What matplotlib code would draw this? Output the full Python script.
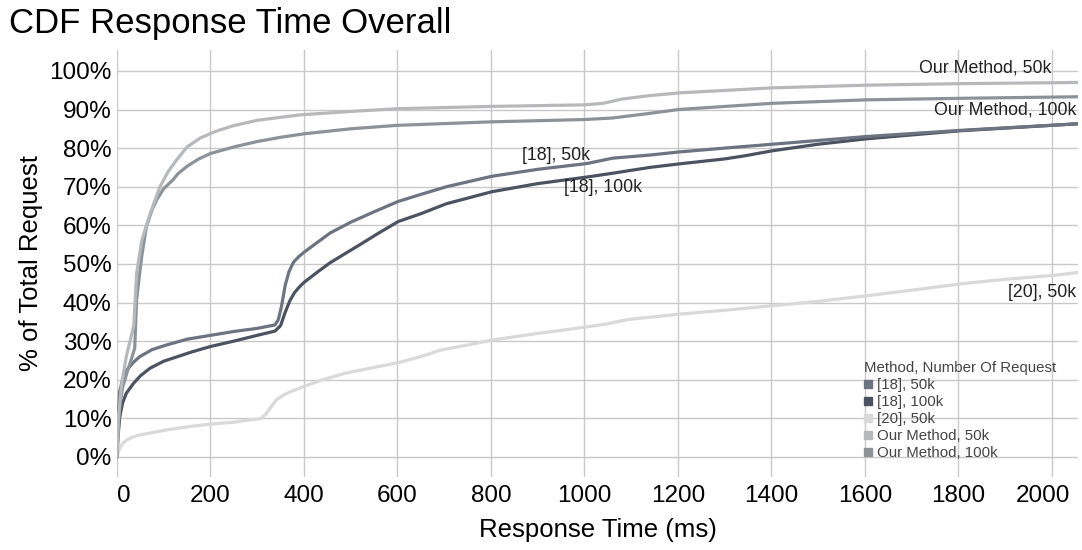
import matplotlib.pyplot as plt
import matplotlib.transforms as mtransforms
from matplotlib.lines import Line2D

plt.rcParams['font.family'] = ['Liberation Sans', 'DejaVu Sans']

# values (x = ms, y = % of requests)
om50_x = [0, 3, 10, 20, 30, 36, 42, 53, 63, 71, 92, 110, 128, 150, 178, 210, 249, 300, 391, 500,
          600, 800, 1000, 1040, 1080, 1140, 1202, 1402, 1603, 1805, 2056]
om50_y = [0, 10, 19, 26, 31, 34, 47.6, 56, 60, 63, 70, 74, 77, 80.3, 82.6, 84.3, 85.8, 87.2, 88.6, 89.5,
          90.2, 90.8, 91.2, 91.6, 92.7, 93.6, 94.3, 95.6, 96.3, 96.7, 97]

om100_x = [0, 3, 6, 12, 21, 30, 38, 42, 48, 53, 63, 75, 85, 100, 120, 130, 150, 175, 200, 250, 300,
           350, 400, 500, 600, 800, 1000, 1060, 1140, 1202, 1402, 1603, 1805, 2056]
om100_y = [0, 8, 13, 18, 21.7, 25, 28.2, 40.7, 47, 52, 59.7, 64, 66.6, 69.5, 71.8, 73.3, 75.3, 77.2, 78.6, 80.3, 81.7,
           82.8, 83.7, 85, 85.9, 86.8, 87.4, 87.8, 89, 90, 91.6, 92.5, 92.9, 93.3]

r18_50_x = [0, 2, 6, 12, 21, 35, 49, 75, 106, 150, 200, 250, 300, 338, 345, 352, 360, 368, 378, 390,
            400, 430, 456, 500, 550, 602, 650, 705, 802, 900, 1005, 1061, 1140, 1202, 1300, 1402, 1603,
            1805, 2056]
r18_50_y = [0, 9, 17, 20, 22.5, 24.5, 26, 27.8, 29, 30.5, 31.5, 32.5, 33.3, 34.2, 35.5, 39, 44.5, 48, 50.5, 52,
            53, 55.7, 58, 60.8, 63.5, 66.2, 68, 70, 72.7, 74.5, 76, 77.4, 78.2, 79, 80, 81, 83,
            84.6, 86.3]

r18_100_x = [0, 2, 6, 12, 20, 35, 50, 71, 100, 120, 160, 200, 250, 300, 338, 350, 360, 370, 380, 390, 400,
             430, 456, 483, 520, 560, 602, 650, 705, 802, 900, 1005, 1061, 1140, 1202, 1300, 1343, 1402,
             1500, 1603, 1805, 2056]
r18_100_y = [0, 5, 10.4, 14, 16.5, 19, 21, 23, 24.8, 25.6, 27.2, 28.6, 30, 31.5, 32.6, 34, 37.5, 40.5, 42.6, 44,
             45.2, 48, 50.3, 52.3, 55, 58, 61, 63, 65.6, 68.7, 70.8, 72.5, 73.5, 75, 75.9, 77.2, 78, 79.3,
             81, 82.4, 84.5, 86.3]

r20_x = [0, 5, 12, 21, 35, 49, 75, 106, 150, 200, 250, 284, 307, 318, 330, 341, 360, 398, 440, 489, 550,
         602, 650, 693, 750, 804, 900, 1006, 1050, 1080, 1102, 1204, 1300, 1405, 1500, 1608, 1700, 1817,
         1900, 2010, 2056]
r20_y = [0, 2, 3.5, 4.4, 5.2, 5.7, 6.3, 7, 7.8, 8.5, 9, 9.6, 9.9, 11, 13, 14.8, 16.3, 18.2, 20, 21.7, 23.2,
         24.4, 26, 27.7, 29, 30.3, 32, 33.7, 34.5, 35.3, 35.7, 37, 38, 39.2, 40.3, 41.8, 43.2, 45,
         46, 47.1, 47.8]

names = ['[18], 50k', '[18], 100k', '[20], 50k', 'Our Method, 50k', 'Our Method, 100k']
colors = ['#6b7480', '#4b5361', '#d9d9d9', '#b6b9bb', '#8b9399']
xticks = [0, 200, 400, 600, 800, 1000, 1200, 1400, 1600, 1800, 2000]
yticks = [0, 10, 20, 30, 40, 50, 60, 70, 80, 90, 100]

fig = plt.figure(figsize=(10.82, 5.5), dpi=100)
ax = fig.add_axes([0.1081, 0.1327, 0.8882, 0.7763])

series = [(r20_x, r20_y), (r18_100_x, r18_100_y), (r18_50_x, r18_50_y),
          (om100_x, om100_y), (om50_x, om50_y)]
order = [2, 1, 0, 4, 3]
for (xs, ys), i in zip(series, order):
    ax.plot(xs, ys, color=colors[i], lw=2.3, solid_capstyle='round', solid_joinstyle='round')

ax.set_xlim(0, 2056)
ax.set_ylim(-5.2, 105.4)
ax.set_xticks(xticks)
ax.set_yticks(yticks)
ax.set_yticklabels([f'{v}%' for v in yticks])
ax.tick_params(length=0, labelsize=17.5, pad=6)
ax.tick_params(axis='y', pad=4)
ax.grid(True, color='#c8c8c8', lw=1)
ax.set_axisbelow(True)
for s in ax.spines.values():
    s.set_visible(False)

# tableau keeps edge labels inside the plot
labs = ax.get_xticklabels()
labs[0].set_ha('left')
labs[-1].set_transform(labs[-1].get_transform() +
                       mtransforms.ScaledTranslation(-0.09, 0, fig.dpi_scale_trans))

ax.set_xlabel('Response Time (ms)', fontsize=18.5, labelpad=8)
ax.set_ylabel('% of Total Request', fontsize=18.5, labelpad=4)
fig.text(0.008, 0.958, 'CDF Response Time Overall', fontsize=25, va='center', ha='left')

# line labels
lab_kw = dict(fontsize=12.8, color='#222222', va='center')
ax.text(2000, 100.8, 'Our Method, 50k', ha='right', **lab_kw)
ax.text(2053, 89.9, 'Our Method, 100k', ha='right', **lab_kw)
ax.text(939, 78.2, '[18], 50k', ha='center', **lab_kw)
ax.text(1040, 69.7, '[18], 100k', ha='center', **lab_kw)
ax.text(2053, 42.5, '[20], 50k', ha='right', **lab_kw)

handles = [Line2D([], [], ls='none', marker='s', ms=6, color=c) for c in colors]
leg = ax.legend(handles, names, title='Method, Number Of Request', loc='upper left',
                bbox_to_anchor=(0.777, 0.271), frameon=False, fontsize=10.8,
                title_fontsize=10.8, handlelength=0.6, handletextpad=0.3,
                labelspacing=0.2, borderaxespad=0, borderpad=0)
leg._legend_box.align = 'left'
for t in leg.get_texts():
    t.set_color('#444444')
leg.get_title().set_color('#444444')

plt.savefig('out.png', dpi=100)
